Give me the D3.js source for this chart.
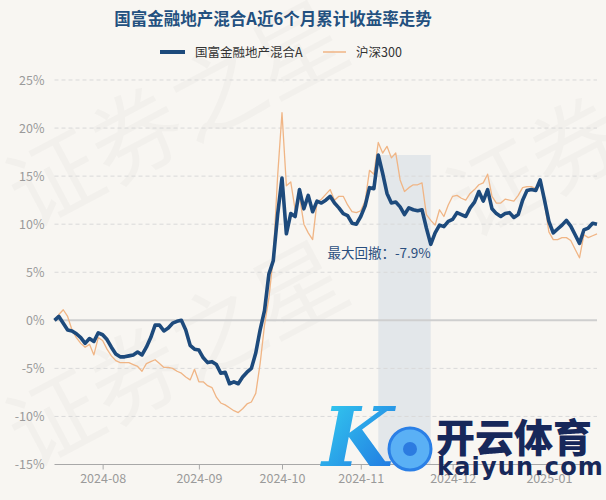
<!DOCTYPE html>
<html>
<head>
<meta charset="utf-8">
<script src="https://cdn.jsdelivr.net/npm/d3@7"></script>
<style>
  html, body { margin: 0; padding: 0; background: #f8f6f2; }
  svg { display: block; font-family: "Noto Sans CJK SC", "Noto Sans", sans-serif; }
</style>
</head>
<body>
<script>
// trading days, 2024-07-17 .. 2025-01-17
var dates = [
  "2024-07-17","2024-07-18","2024-07-19","2024-07-22","2024-07-23","2024-07-24","2024-07-25","2024-07-26","2024-07-29","2024-07-30","2024-07-31",
  "2024-08-01","2024-08-02","2024-08-05","2024-08-06","2024-08-07","2024-08-08","2024-08-09","2024-08-12","2024-08-13","2024-08-14","2024-08-15",
  "2024-08-16","2024-08-19","2024-08-20","2024-08-21","2024-08-22","2024-08-23","2024-08-26","2024-08-27","2024-08-28","2024-08-29","2024-08-30",
  "2024-09-02","2024-09-03","2024-09-04","2024-09-05","2024-09-06","2024-09-09","2024-09-10","2024-09-11","2024-09-12","2024-09-13",
  "2024-09-18","2024-09-19","2024-09-20","2024-09-23","2024-09-24","2024-09-25","2024-09-26","2024-09-27","2024-09-30",
  "2024-10-08","2024-10-09","2024-10-10","2024-10-11","2024-10-14","2024-10-15","2024-10-16","2024-10-17","2024-10-18",
  "2024-10-21","2024-10-22","2024-10-23","2024-10-24","2024-10-25","2024-10-28","2024-10-29","2024-10-30","2024-10-31",
  "2024-11-01","2024-11-04","2024-11-05","2024-11-06","2024-11-07","2024-11-08","2024-11-11","2024-11-12","2024-11-13","2024-11-14","2024-11-15",
  "2024-11-18","2024-11-19","2024-11-20","2024-11-21","2024-11-22","2024-11-25","2024-11-26","2024-11-27","2024-11-28","2024-11-29",
  "2024-12-02","2024-12-03","2024-12-04","2024-12-05","2024-12-06","2024-12-09","2024-12-10","2024-12-11","2024-12-12","2024-12-13","2024-12-16",
  "2024-12-17","2024-12-18","2024-12-19","2024-12-20","2024-12-23","2024-12-24","2024-12-25","2024-12-26","2024-12-27","2024-12-30","2024-12-31",
  "2025-01-02","2025-01-03","2025-01-06","2025-01-07","2025-01-08","2025-01-09","2025-01-10","2025-01-13","2025-01-14","2025-01-15","2025-01-16","2025-01-17"
];

// 国富金融地产混合A cumulative return (%)
var fund = [
  0.0, 0.4, -0.3, -1.0, -1.1, -1.4, -1.8, -2.4, -1.9, -2.2, -1.3,
  -1.5, -2.0, -2.8, -3.5, -3.8, -3.8, -3.7, -3.6, -3.3, -3.6, -2.8,
  -1.8, -0.5, -0.5, -1.1, -0.8, -0.3, -0.1, 0.0, -1.0, -2.6, -3.0,
  -3.1, -3.9, -4.4, -4.3, -4.6, -5.5, -5.4, -6.6, -6.4, -6.6,
  -5.9, -5.4, -5.0, -3.4, -1.0, 1.0, 4.8, 6.2, 11.0,
  14.8, 9.0, 11.1, 10.8, 13.6, 11.6, 13.0, 11.3, 12.4,
  12.2, 12.5, 12.9, 12.2, 11.7, 11.1, 10.9, 10.1, 10.0,
  10.8, 11.9, 13.8, 13.7, 17.2, 15.3, 13.2, 12.2, 12.3, 11.8, 11.0,
  11.7, 11.5, 11.4, 11.5, 9.6, 7.9, 9.1, 9.9, 9.75, 10.3,
  10.5, 11.2, 11.0, 10.8, 11.7, 12.3, 13.4, 12.4, 13.6, 11.6, 11.1,
  10.8, 11.1, 11.2, 10.7, 11.0, 12.5, 13.5, 13.6, 13.5, 14.6, 12.5,
  10.3, 9.1, 9.5, 9.9, 10.4, 9.8, 8.9, 8.0, 9.4, 9.6, 10.1, 10.0
];

// 沪深300 cumulative return (%)
var hs300 = [
  0.0, 0.6, 1.1, 0.4, -1.0, -1.8, -2.4, -2.8, -2.5, -3.6, -1.8,
  -2.1, -3.0, -3.7, -4.2, -4.4, -4.4, -4.4, -4.6, -4.8, -5.3, -4.5,
  -4.3, -4.1, -4.5, -4.9, -4.9, -5.0, -5.3, -5.5, -5.9, -6.2, -5.1,
  -6.4, -6.4, -6.8, -7.0, -8.0, -8.6, -8.8, -9.1, -9.4, -9.6,
  -9.2, -8.7, -8.5, -7.6, -4.5, -0.5, 2.3, 6.5, 15.0,
  21.6, 14.0, 14.4, 11.5, 12.9, 10.0, 9.1, 8.4, 12.3,
  12.6, 13.1, 13.6, 12.5, 12.9, 12.9, 12.0, 11.3, 11.2,
  11.4, 12.4, 15.6, 15.2, 18.5, 17.4, 18.1, 16.9, 17.4, 14.6, 13.4,
  13.8, 14.1, 14.1, 14.3, 11.0, 10.4, 9.9, 11.5, 10.8, 12.0,
  12.9, 13.0, 12.7, 12.5, 13.2, 13.6, 14.1, 14.3, 15.2, 12.9, 12.2,
  12.2, 12.6, 12.5, 12.4, 13.0, 13.8, 13.9, 13.9, 13.7, 14.6, 12.2,
  9.2, 8.4, 8.4, 8.6, 8.6, 8.3, 7.4, 6.5, 8.9, 8.6, 8.8, 9.0
];

var yTicks = [-15, -10, -5, 0, 5, 10, 15, 20, 25];
var monthLabels = ["2024-08", "2024-09", "2024-10", "2024-11", "2024-12", "2025-01"];
var seriesNames = ["国富金融地产混合A", "沪深300"];

var W = 606, H = 500;
var plotL = 54.5, plotR = 597, plotT = 80, plotB = 464.5;
var blue = "#1d4a7c", orange = "#f0b585";

var svg = d3.select("body").append("svg")
    .attr("width", W)
    .attr("height", H);

svg.append("rect").attr("width", W).attr("height", H).attr("fill", "#f8f6f2");

// faint watermark
var wm = svg.append("g").attr("fill", "#000").attr("fill-opacity", 0.025)
    .attr("font-size", 92).attr("font-weight", 400);
[[30, 230], [30, 470], [470, 240]].forEach(function(p) {
    wm.append("text")
        .attr("transform", "translate(" + p[0] + "," + p[1] + ") rotate(-28)")
        .text("证券之星");
});

var x = d3.scalePoint().domain(dates).range([plotL, plotR]);
var y = d3.scaleLinear().domain([-15, 25]).range([plotB, plotT]);

// max drawdown of the fund
var bestPeak = 0, ddMax = 0, ddPeak = 0, ddTrough = 0;
fund.forEach(function(v, i) {
    if (v > fund[bestPeak]) bestPeak = i;
    var dd = (1 + v / 100) / (1 + fund[bestPeak] / 100) - 1;
    if (dd < ddMax) { ddMax = dd; ddPeak = bestPeak; ddTrough = i; }
});

svg.append("rect")
    .attr("x", x(dates[ddPeak]))
    .attr("y", y(fund[ddPeak]))
    .attr("width", x(dates[ddTrough]) - x(dates[ddPeak]))
    .attr("height", plotB - y(fund[ddPeak]))
    .attr("fill", "#dfe4e9")
    .attr("fill-opacity", 0.85);

// grid
svg.append("g").selectAll("line")
    .data(yTicks.filter(function(d) { return d !== -15 && d !== 0; }))
    .enter().append("line")
    .attr("x1", plotL).attr("x2", plotR)
    .attr("y1", function(d) { return y(d); })
    .attr("y2", function(d) { return y(d); })
    .attr("stroke", "#d9d9d9")
    .attr("stroke-dasharray", "4,3");

svg.append("line")
    .attr("x1", plotL).attr("x2", plotR)
    .attr("y1", y(0)).attr("y2", y(0))
    .attr("stroke", "#cfcfcf").attr("stroke-width", 2);

// y labels
var yAxis = d3.axisLeft(y).tickValues(yTicks).tickSize(0).tickPadding(10)
    .tickFormat(function(d) { return d + "%"; });
svg.append("g")
    .attr("transform", "translate(" + plotL + ",0)")
    .call(yAxis)
    .call(function(g) { g.select(".domain").remove(); })
    .selectAll("text")
    .attr("fill", "#9a9a9a")
    .attr("font-size", 12.5)
    .attr("font-family", "Noto Sans CJK SC");

// x axis
var tickDates = monthLabels.map(function(m) {
    return dates.find(function(d) { return d.slice(0, 7) === m; });
});
var xAxis = d3.axisBottom(x).tickValues(tickDates).tickSize(5).tickPadding(5)
    .tickFormat(function(d) { return d.slice(0, 7); });
var xg = svg.append("g")
    .attr("transform", "translate(0," + plotB + ")")
    .call(xAxis);
xg.select(".domain").attr("stroke", "#a8a8a8").attr("d", "M" + plotL + ",0H" + plotR);
xg.selectAll(".tick line").attr("stroke", "#a8a8a8");
xg.selectAll("text")
    .attr("fill", "#9a9a9a")
    .attr("font-size", 12.5)
    .attr("font-family", "Noto Sans CJK SC");

// lines
var line = function(vals) {
    return d3.line()
        .x(function(d, i) { return x(dates[i]); })
        .y(function(d) { return y(d); })(vals);
};

svg.append("path")
    .attr("d", line(hs300))
    .attr("fill", "none")
    .attr("stroke", orange)
    .attr("stroke-width", 1.3)
    .attr("stroke-linejoin", "round");

svg.append("path")
    .attr("d", line(fund))
    .attr("fill", "none")
    .attr("stroke", blue)
    .attr("stroke-width", 3.6)
    .attr("stroke-linejoin", "round");

// drawdown label
svg.append("text")
    .attr("x", x(dates[ddTrough]))
    .attr("y", y(fund[ddTrough]) + 13.5)
    .attr("text-anchor", "end")
    .attr("fill", "#2b4f7e")
    .attr("font-size", 13.5)
    .text("最大回撤：" + (ddMax * 100).toFixed(1) + "%");

// title
svg.append("text")
    .attr("x", 273).attr("y", 25)
    .attr("text-anchor", "middle")
    .attr("fill", "#23507f")
    .attr("font-size", 16.5)
    .attr("font-weight", 700)
    .text("国富金融地产混合A近6个月累计收益率走势");

// legend
var lg = svg.append("g");
lg.append("line").attr("x1", 160).attr("x2", 185).attr("y1", 52).attr("y2", 52)
    .attr("stroke", blue).attr("stroke-width", 4);
lg.append("text").attr("x", 195).attr("y", 56.5).attr("font-size", 12.5).attr("fill", "#333")
    .text(seriesNames[0]);
lg.append("line").attr("x1", 323).attr("x2", 346).attr("y1", 52).attr("y2", 52)
    .attr("stroke", orange).attr("stroke-width", 1.5);
lg.append("text").attr("x", 356).attr("y", 56.5).attr("font-size", 12.5).attr("fill", "#333")
    .text(seriesNames[1]);

// logo overlay, bottom right
var defs = svg.append("defs");
var grad = defs.append("linearGradient").attr("id", "kg")
    .attr("x1", "0").attr("y1", "0").attr("x2", "1").attr("y2", "1");
grad.append("stop").attr("offset", "0").attr("stop-color", "#35d3f0");
grad.append("stop").attr("offset", "1").attr("stop-color", "#1f6fe0");

var logo = svg.append("g");
logo.append("text")
    .attr("x", 322).attr("y", 466)
    .attr("font-size", 82).attr("font-style", "italic").attr("font-weight", 700)
    .attr("font-family", "DejaVu Serif")
    .attr("fill", "url(#kg)")
    .text("K");
logo.append("circle")
    .attr("cx", 410).attr("cy", 449).attr("r", 21)
    .attr("fill", "#5ab0f5").attr("stroke", "#2a7fe6").attr("stroke-width", 3);
logo.append("circle")
    .attr("cx", 410).attr("cy", 449).attr("r", 7)
    .attr("fill", "#2c7be0");
logo.append("text")
    .attr("x", 436).attr("y", 452)
    .attr("font-size", 39).attr("font-weight", 900)
    .attr("fill", "#17285a")
    .text("开云体育");
logo.append("text")
    .attr("x", 437).attr("y", 475)
    .attr("font-size", 24).attr("font-weight", 700)
    .attr("font-family", "DejaVu Sans")
    .attr("letter-spacing", 1.2)
    .attr("fill", "#17285a")
    .text("kaiyun.com");
</script>
</body>
</html>
